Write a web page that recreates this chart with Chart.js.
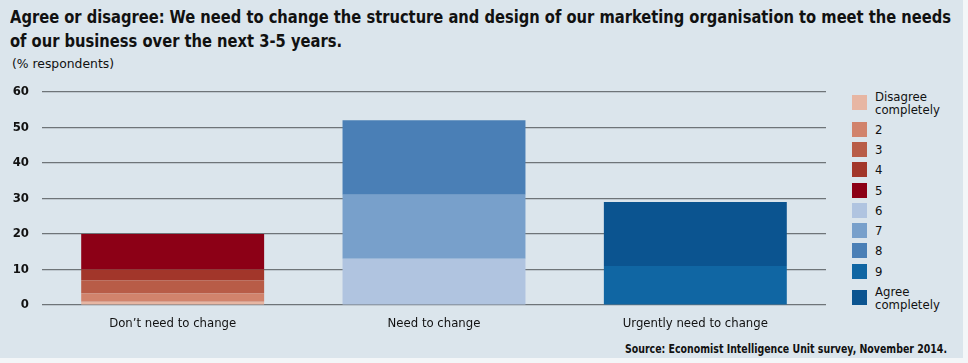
<!DOCTYPE html>
<html>
<head>
<meta charset="utf-8">
<script src="https://cdn.jsdelivr.net/npm/chart.js@4/dist/chart.umd.min.js"></script>
<style>
  html, body { margin: 0; padding: 0; }
  body { width: 968px; height: 363px; background: #f3f6f8; position: relative; overflow: hidden;
         font-family: "DejaVu Sans Condensed", "DejaVu Sans", sans-serif; font-stretch: condensed; color: #111; }
  #panel { position: absolute; left: 0; top: 0; width: 963px; height: 358px; background: #dbe5ec; }
  .fit { position: absolute; white-space: nowrap; transform-origin: 0 0; }
  #title1, #title2 { left: 10px; font-weight: bold; font-size: 17px; line-height: 20px; }
  #title1 { top: 7px; }
  #title2 { top: 31px; }
  #unit { left: 12px; top: 57px; font-size: 12px; line-height: 15px; }
  #source { left: 625px; top: 342px; font-size: 12px; font-weight: bold; line-height: 15px; }
  #chartWrap { position: absolute; left: 0; top: 71px; width: 826px; height: 264px; }
  #legend { position: absolute; left: 852px; top: 86px; font-size: 13px; }
  .lg-row { display: flex; align-items: center; height: 20.3px; }
  .lg-row.tall { height: 33px; }
  .lg-box { width: 15px; height: 15px; margin-right: 8px; flex: none; }
  .lg-text { line-height: 13px; }
</style>
</head>
<body>
<div id="panel"></div>
<div id="title1" class="fit" data-w="941">Agree or disagree: We need to change the structure and design of our marketing organisation to meet the needs</div>
<div id="title2" class="fit" data-w="332">of our business over the next 3-5 years.</div>
<div id="unit" class="fit" data-w="102">(% respondents)</div>
<div id="chartWrap"><canvas id="chart"></canvas></div>
<div id="legend"></div>
<div id="source" class="fit" data-w="322">Source: Economist Intelligence Unit survey, November 2014.</div>

<script>
const categories = ["Don\u2019t need to change", "Need to change", "Urgently need to change"];
const scaleLabels = ["Disagree completely", "2", "3", "4", "5", "6", "7", "8", "9", "Agree completely"];
// one value per category; 0 where that answer is not part of the group
const disagreeCompletely = [0.9, 0, 0];
const score2 = [2.4, 0, 0];
const score3 = [3.7, 0, 0];
const score4 = [3, 0, 0];
const score5 = [10, 0, 0];
const score6 = [0, 13, 0];
const score7 = [0, 18, 0];
const score8 = [0, 21, 0];
const score9 = [0, 0, 11];
const agreeCompletely = [0, 0, 18];
const yTicks = [0, 10, 20, 30, 40, 50, 60];

const colors = ["#e7b6a3", "#d1836c", "#b85c47", "#a2362a", "#8c0016",
                "#b0c4e0", "#78a0cb", "#4a7fb6", "#1066a3", "#0b5490"];
const series = [disagreeCompletely, score2, score3, score4, score5,
                score6, score7, score8, score9, agreeCompletely];

const datasets = series.map((data, i) => ({
  label: scaleLabels[i],
  data,
  backgroundColor: colors[i],
  borderWidth: 0,
  barPercentage: 0.7,
  categoryPercentage: 1
}));

const FONT = "DejaVu Sans Condensed, DejaVu Sans, sans-serif";

new Chart(document.getElementById("chart"), {
  type: "bar",
  data: { labels: categories, datasets },
  options: {
    responsive: true,
    maintainAspectRatio: false,
    animation: false,
    layout: { padding: { top: 8, right: 0, bottom: 0, left: 0 } },
    plugins: { legend: { display: false }, tooltip: { enabled: false } },
    scales: {
      x: {
        stacked: true,
        grid: { display: false },
        border: { display: false },
        ticks: { color: "#111", padding: 3, font: { family: FONT, size: 13 } },
        afterFit: s => { s.height = 30; }
      },
      y: {
        stacked: true,
        min: 0,
        max: 60,
        afterBuildTicks: s => { s.ticks = yTicks.map(v => ({ value: v })); },
        grid: { color: "#6e7478", lineWidth: 1.2, drawTicks: false },
        border: { display: false },
        ticks: { color: "#111", padding: 13, font: { family: FONT, size: 13, weight: "bold" } },
        afterFit: s => { s.width = 42; }
      }
    }
  }
});

// legend, top to bottom in answer order
const legendEl = document.getElementById("legend");
scaleLabels.forEach((lbl, i) => {
  const words = lbl.split(" ");
  const tall = words.length > 1;
  legendEl.innerHTML += `
    <div class="lg-row${tall ? " tall" : ""}">
      <span class="lg-box" style="background:${colors[i]}"></span>
      <span class="lg-text">${words.join("<br>")}</span>
    </div>`;
});

// squeeze text lines to the narrow widths of the original typeface
document.querySelectorAll(".fit").forEach(el => {
  const w = el.getBoundingClientRect().width;
  el.style.transform = `scaleX(${el.dataset.w / w})`;
});
</script>
</body>
</html>
